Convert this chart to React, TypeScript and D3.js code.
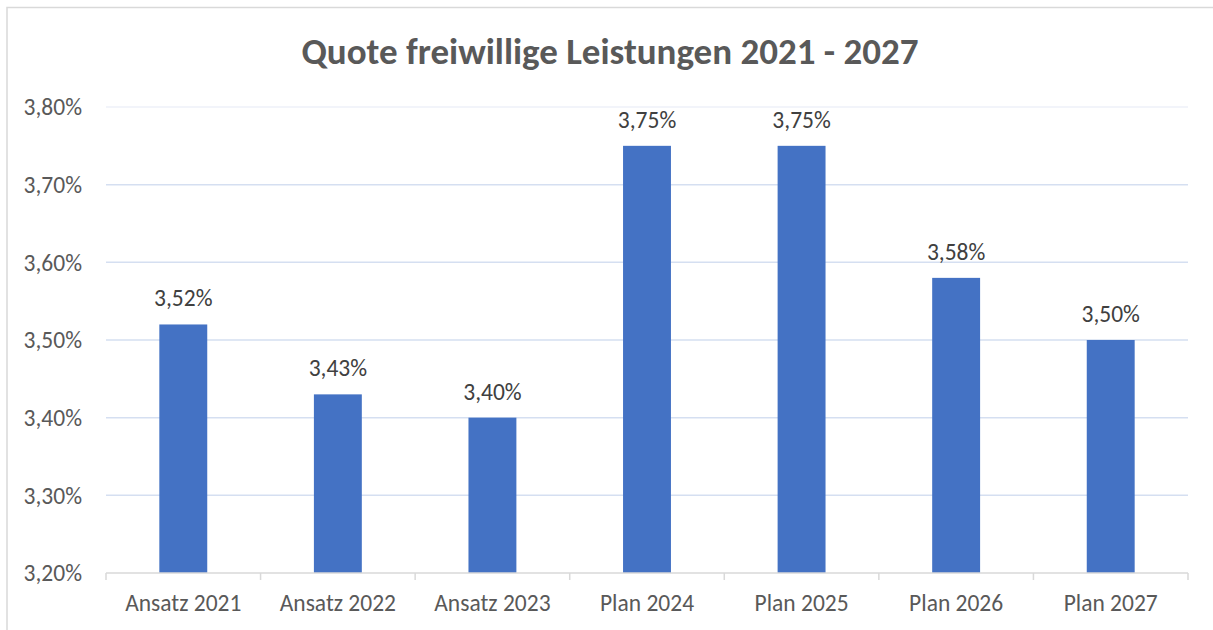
import React, { useEffect, useRef } from 'react';
import * as d3 from 'd3';

const categories = ['Ansatz 2021', 'Ansatz 2022', 'Ansatz 2023', 'Plan 2024', 'Plan 2025', 'Plan 2026', 'Plan 2027'];
const values = [3.52, 3.43, 3.4, 3.75, 3.75, 3.58, 3.5];
const yTicks = [3.2, 3.3, 3.4, 3.5, 3.6, 3.7, 3.8];

const W = 1213;
const H = 630;
const FONT = "Carlito, Calibri, 'Open Sans', 'Noto Sans', sans-serif";

const fmt = (v: number) => v.toFixed(2).replace('.', ',') + '%';

const App: React.FC = () => {
  const ref = useRef<SVGSVGElement | null>(null);

  useEffect(() => {
    if (!ref.current) return;
    const svg = d3.select(ref.current);
    svg.selectAll('*').remove();

    const margin = { top: 107, right: 25, bottom: 57, left: 106 };
    const innerW = 1188 - margin.left;
    const innerH = 573 - margin.top;

    // chart frame
    svg.append('rect')
      .attr('x', 7).attr('y', 7.5)
      .attr('width', W + 20).attr('height', H + 20)
      .attr('fill', '#fff').attr('stroke', '#d9d9d9').attr('stroke-width', 1.5);

    svg.append('text')
      .attr('x', 610).attr('y', 64)
      .attr('text-anchor', 'middle')
      .attr('font-family', FONT).attr('font-weight', 'bold')
      .attr('font-size', 37).attr('fill', '#595959')
      .text('Quote freiwillige Leistungen 2021 - 2027');

    const x = d3.scaleBand<string>().domain(categories).range([0, innerW]).paddingInner(0.69).paddingOuter(0.345);
    const xb = d3.scaleBand<string>().domain(categories).range([0, innerW]);
    const y = d3.scaleLinear().domain([3.2, 3.8]).range([innerH, 0]);

    const g = svg.append('g').attr('transform', `translate(${margin.left},${margin.top})`);

    // gridlines
    g.selectAll('line.grid')
      .data(yTicks.slice(1))
      .enter().append('line')
      .attr('x1', 0).attr('x2', innerW)
      .attr('y1', d => y(d)).attr('y2', d => y(d))
      .attr('stroke', d => (d >= 3.8 ? '#eef1f8' : '#d5dff1'))
      .attr('stroke-width', 1.5);

    // y labels
    g.selectAll('text.ylab')
      .data(yTicks)
      .enter().append('text')
      .attr('x', -24).attr('y', d => y(d))
      .attr('dy', '0.35em')
      .attr('text-anchor', 'end')
      .attr('font-family', FONT).attr('font-size', 23.5).attr('fill', '#595959')
      .text(d => fmt(d));

    // bars
    g.selectAll('rect.bar')
      .data(values)
      .enter().append('rect')
      .attr('x', (_, i) => x(categories[i])!)
      .attr('width', x.bandwidth())
      .attr('y', d => y(d))
      .attr('height', d => innerH - y(d))
      .attr('fill', '#4472c4');

    // value labels
    g.selectAll('text.val')
      .data(values)
      .enter().append('text')
      .attr('x', (_, i) => x(categories[i])! + x.bandwidth() / 2)
      .attr('y', d => y(d) - 18)
      .attr('text-anchor', 'middle')
      .attr('font-family', FONT).attr('font-size', 23.5).attr('fill', '#404040')
      .text(d => fmt(d));

    // x axis
    const ax = g.append('g').attr('transform', `translate(0,${innerH})`);
    ax.append('line').attr('x1', 0).attr('x2', innerW).attr('stroke', '#d9d9d9').attr('stroke-width', 1.5);
    const edges = categories.map(c => xb(c)!).concat([innerW]);
    ax.selectAll('line.tick')
      .data(edges)
      .enter().append('line')
      .attr('x1', d => d).attr('x2', d => d)
      .attr('y1', 0).attr('y2', 7)
      .attr('stroke', '#d9d9d9').attr('stroke-width', 1.5);
    ax.selectAll('text.xlab')
      .data(categories)
      .enter().append('text')
      .attr('x', d => xb(d)! + xb.bandwidth() / 2)
      .attr('y', 38)
      .attr('text-anchor', 'middle')
      .attr('font-family', FONT).attr('font-size', 23.5).attr('fill', '#595959')
      .text(d => d);
  }, []);

  return <svg ref={ref} width={W} height={H} style={{ display: 'block', position: 'absolute', left: 0, top: 0 }} />;
};

export default App;
